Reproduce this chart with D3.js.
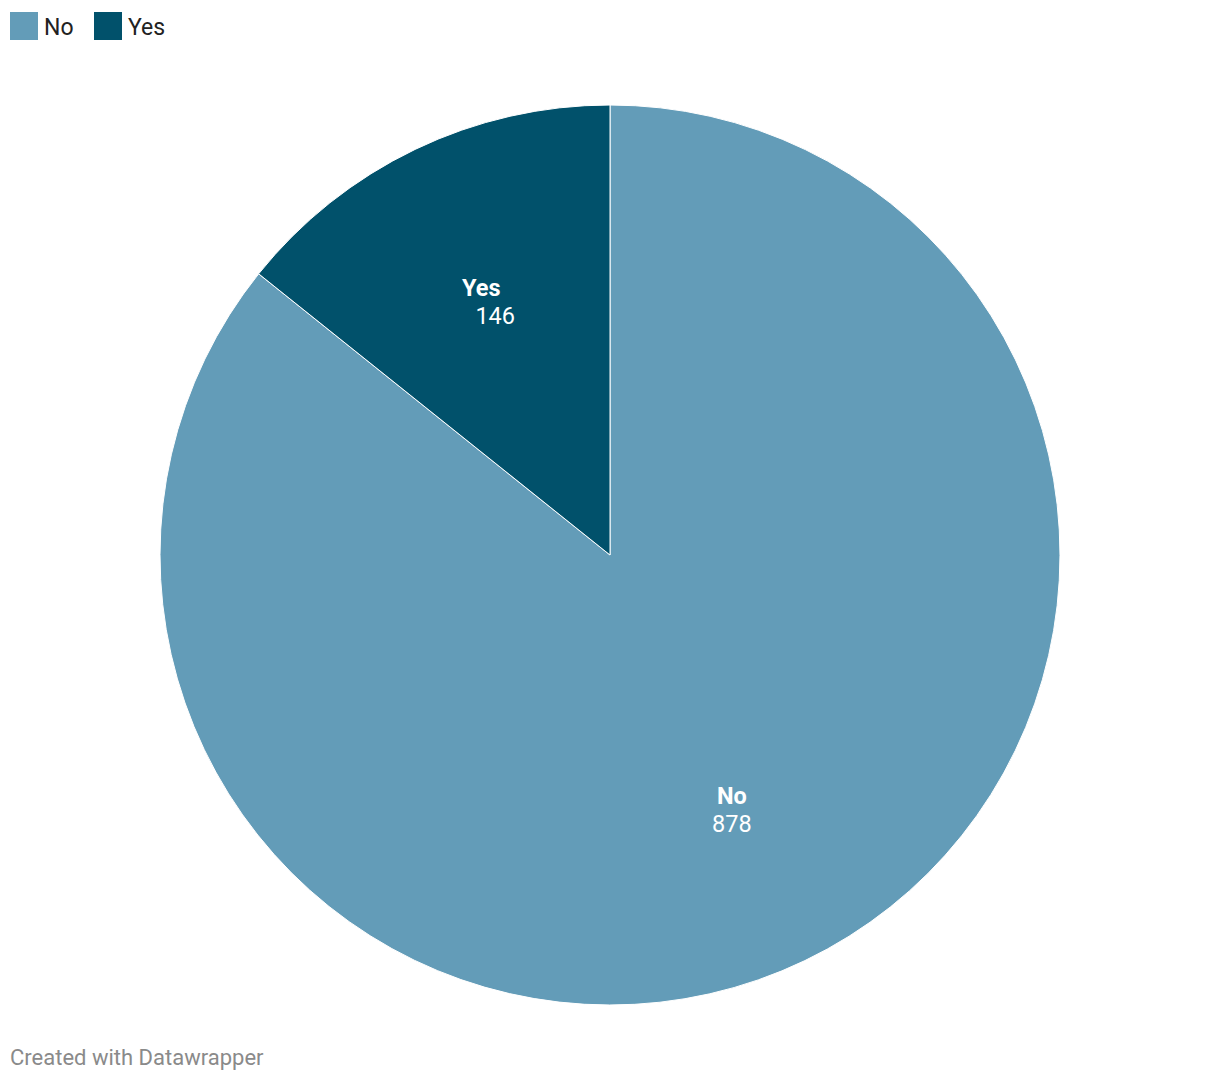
<!DOCTYPE html>
<html><head><meta charset="utf-8">
<script src="https://cdn.jsdelivr.net/npm/d3@7"></script>
<style>
html,body{margin:0;padding:0;background:#fff;}
text{font-family:Roboto,"Noto Sans",sans-serif;}
</style></head>
<body>
<svg id="chart" width="1220" height="1082"></svg>
<script>
const categories = ["No", "Yes"];
const values = [878, 146];
const colors = ["#639cb8", "#01516b"];
const footerText = "Created with Datawrapper";

const svg = d3.select("#chart");
const cx = 610, cy = 555, R = 450;

const color = d3.scaleOrdinal().domain(categories).range(colors);
const data = categories.map((c, i) => ({cat: c, val: values[i]}));
const pie = d3.pie().sort(null).value(d => d.val);
const arcs = pie(data);
const arc = d3.arc().innerRadius(0).outerRadius(R);
const labelArc = d3.arc().innerRadius(R * 0.625).outerRadius(R * 0.625);

const g = svg.append("g").attr("transform", `translate(${cx},${cy})`);
g.selectAll("path").data(arcs).join("path")
  .attr("d", arc)
  .attr("fill", d => color(d.data.cat))
  .attr("stroke", "#fff")
  .attr("stroke-width", 1);

const offs = {No: [0, 0], Yes: [-7, 7]};
const lab = g.selectAll("g.lab").data(arcs).join("g").attr("class", "lab")
  .attr("transform", d => { const c = labelArc.centroid(d); return `translate(${c[0]},${c[1]})`; });
lab.append("text")
  .attr("x", d => offs[d.data.cat][0])
  .attr("y", -5)
  .attr("text-anchor", "middle")
  .attr("font-size", 23.5).attr("font-weight", 700).attr("fill", "#fff")
  .text(d => d.data.cat);
lab.append("text")
  .attr("x", d => offs[d.data.cat][1])
  .attr("y", 23)
  .attr("text-anchor", "middle")
  .attr("font-size", 23.5).attr("fill", "#fff")
  .text(d => d3.format(",")(d.data.val));

// legend
const legX = [10, 94];
const leg = svg.selectAll("g.leg").data(categories).join("g").attr("class", "leg")
  .attr("transform", (d, i) => `translate(${legX[i]},12)`);
leg.append("rect").attr("width", 28).attr("height", 28).attr("fill", d => color(d));
leg.append("text").attr("x", 34).attr("y", 23).attr("font-size", 23).attr("fill", "#222").text(d => d);

svg.append("text").attr("x", 10).attr("y", 1065).attr("font-size", 22).attr("fill", "#8a8a8a").text(footerText);
</script>
</body></html>
